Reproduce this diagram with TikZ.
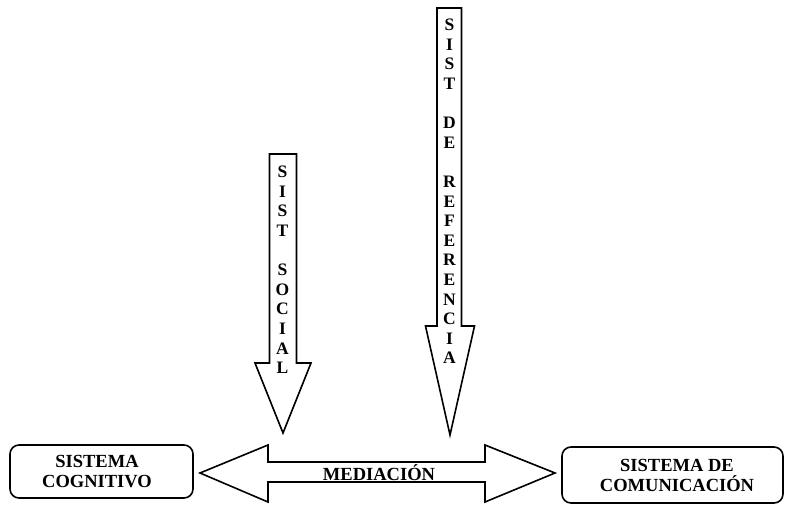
\documentclass[tikz,border=0pt]{standalone}
\usepackage{fontspec}
\setmainfont{Liberation Serif}
\begin{document}
\begin{tikzpicture}[x=1pt,y=-1pt,
  outline/.style={draw=black,line width=1.6pt,line join=miter,fill=white},
  sysbox/.style={draw=black,line width=1.6pt,rounded corners=9pt,fill=white},
  label/.style={font=\bfseries\fontsize{18.5}{20}\selectfont,align=center,inner sep=0pt},
  letter/.style={font=\bfseries\fontsize{17.5}{19}\selectfont,inner sep=0pt,anchor=center}]
  \useasboundingbox (0,0) rectangle (786,506);

  % system boxes
  \draw[sysbox] (10,445) rectangle (193,498);
  \node[label] (cog) at (97,472) {SISTEMA\\COGNITIVO};
  \draw[sysbox] (562,447) rectangle (783,503);
  \node[label] (com) at (677,475) {SISTEMA DE\\COMUNICACIÓN};

  % two-headed mediation arrow
  \draw[outline] (200,473) -- (268,445) -- (268,462) -- (485,462) -- (485,445)
    -- (555,473) -- (485,502) -- (485,482) -- (268,482) -- (268,502) -- cycle;
  \node[label] (med) at (379,473) {MEDIACIÓN};

  % social system arrow
  \draw[outline] (269.5,154) -- (296.5,154) -- (296.5,363) -- (311,363)
    -- (283,433) -- (255,363) -- (269.5,363) -- cycle;
  \foreach \ch [count=\i from 0] in {S,I,S,T,{},S,O,C,I,A,L}
    \node[letter] (soc\i) at (282.5,172+19.6*\i) {\ch};

  % reference system arrow
  \draw[outline] (437,8) -- (461.5,8) -- (461.5,326) -- (474.5,326)
    -- (450,435) -- (425.5,326) -- (437,326) -- cycle;
  \foreach \ch [count=\i from 0] in {S,I,S,T,{},D,E,{},R,E,F,E,R,E,N,C,I,A}
    \node[letter] (ref\i) at (449.5,25+19.6*\i) {\ch};
\end{tikzpicture}
\end{document}
